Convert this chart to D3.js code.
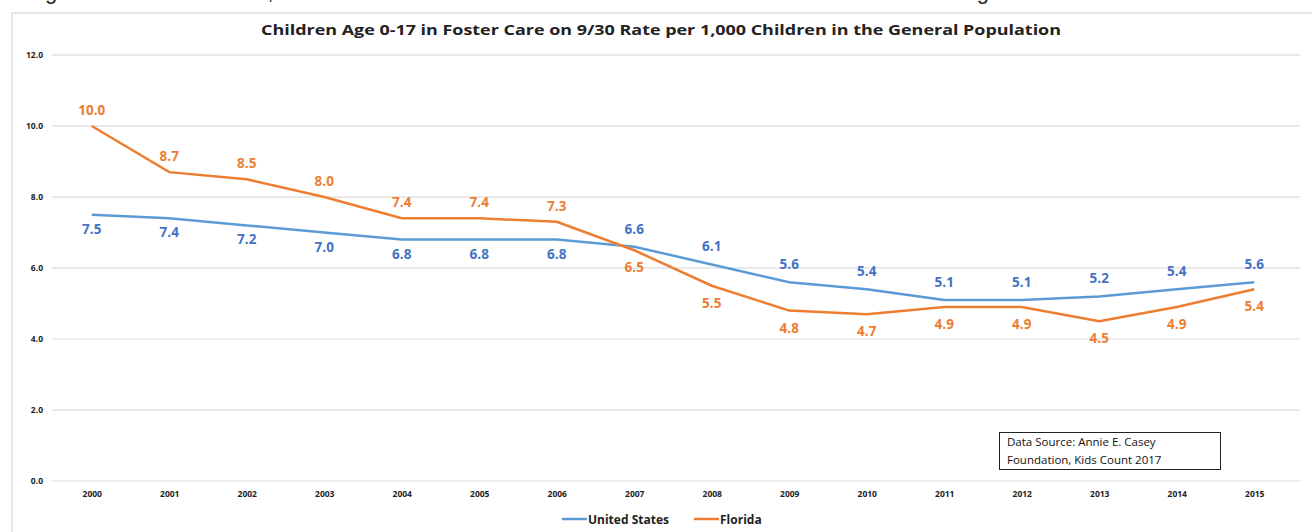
<!DOCTYPE html>
<html>
<head>
<meta charset="utf-8">
<script src="https://cdn.jsdelivr.net/npm/d3@7"></script>
<style>
  body { margin: 0; background: #fff; }
  svg { display: block; font-family: "Open Sans", "Noto Sans", sans-serif; }
</style>
</head>
<body>
<svg id="chart" width="1312" height="532"></svg>
<script>
// data
var years = ["2000","2001","2002","2003","2004","2005","2006","2007","2008","2009","2010","2011","2012","2013","2014","2015"];
var usValues = [7.5, 7.4, 7.2, 7.0, 6.8, 6.8, 6.8, 6.6, 6.1, 5.6, 5.4, 5.1, 5.1, 5.2, 5.4, 5.6];
var flValues = [10.0, 8.7, 8.5, 8.0, 7.4, 7.4, 7.3, 6.5, 5.5, 4.8, 4.7, 4.9, 4.9, 4.5, 4.9, 5.4];
var yTicks = [0, 2, 4, 6, 8, 10, 12];

var usLine = "#5B9BD5", usText = "#4472C4";
var flColor = "#ED7D31";

var svg = d3.select("#chart");

// text line from the page above the chart, cut off by the top edge like in the screenshot
svg.append("text")
    .attr("x", -4).attr("y", -1)
    .attr("font-size", 22)
    .attr("fill", "#222")
    .attr("font-family", "Liberation Sans, sans-serif")
    .text("the age. From 2000 to 2015, Florida decreased its rate of children in care to below the national average");

// chart frame (only left and top edges visible)
svg.append("line").attr("x1", 12).attr("x2", 1312).attr("y1", 13).attr("y2", 13)
    .attr("stroke", "#d0d0d0");
svg.append("line").attr("x1", 12).attr("x2", 12).attr("y1", 13).attr("y2", 532)
    .attr("stroke", "#d0d0d0");

svg.append("text")
    .attr("x", 661).attr("y", 35)
    .attr("text-anchor", "middle")
    .attr("font-size", 15)
    .attr("font-weight", "bold")
    .attr("fill", "#222")
    .attr("textLength", 800)
    .attr("lengthAdjust", "spacingAndGlyphs")
    .text("Children Age 0-17 in Foster Care on 9/30 Rate per 1,000 Children in the General Population");

var x = d3.scalePoint().domain(years).range([53, 1293]).padding(0.5);
var y = d3.scaleLinear().domain([0, 12]).range([481, 55]);

// gridlines
svg.append("g").selectAll("line")
    .data(yTicks)
    .enter().append("line")
    .attr("x1", 52).attr("x2", 1300)
    .attr("y1", d => y(d)).attr("y2", d => y(d))
    .attr("stroke", d => (d === 0 || d === 4) ? "#ececec" : "#d4d4d4")
    .attr("stroke-width", d => (d === 0 || d === 4) ? 2 : 1);

// y axis labels
var yAxis = svg.append("g")
    .attr("transform", "translate(43,0)")
    .call(d3.axisLeft(y).tickValues(yTicks).tickFormat(d3.format(".1f")).tickSize(0).tickPadding(0));
yAxis.select(".domain").remove();
yAxis.selectAll("text")
    .attr("font-size", 8.5).attr("font-weight", "bold").attr("fill", "#222")
    .attr("font-family", "Open Sans, sans-serif");

// x axis labels
var xAxis = svg.append("g")
    .attr("transform", "translate(0,491)")
    .call(d3.axisBottom(x).tickSize(0).tickPadding(0));
xAxis.select(".domain").remove();
xAxis.selectAll("text")
    .attr("font-size", 8.5).attr("font-weight", "bold").attr("fill", "#222")
    .attr("font-family", "Open Sans, sans-serif");

var line = d3.line()
    .x((d, i) => x(years[i]))
    .y(d => y(d));

svg.append("path").datum(usValues)
    .attr("d", line).attr("fill", "none")
    .attr("stroke", usLine).attr("stroke-width", 2.5);
svg.append("path").datum(flValues)
    .attr("d", line).attr("fill", "none")
    .attr("stroke", flColor).attr("stroke-width", 2.5);

// data labels: before 2007 US below, Florida above; from 2007 swapped
svg.append("g").selectAll("text")
    .data(usValues)
    .enter().append("text")
    .attr("x", (d, i) => x(years[i]))
    .attr("y", (d, i) => i < 7 ? y(d) + 19 : y(d) - 13)
    .attr("text-anchor", "middle")
    .attr("font-size", 13.5).attr("font-weight", "bold")
    .attr("fill", usText)
    .text(d => d3.format(".1f")(d));

svg.append("g").selectAll("text")
    .data(flValues)
    .enter().append("text")
    .attr("x", (d, i) => x(years[i]))
    .attr("y", (d, i) => i < 7 ? y(d) - 11 : y(d) + 22)
    .attr("text-anchor", "middle")
    .attr("font-size", 13.5).attr("font-weight", "bold")
    .attr("fill", flColor)
    .text(d => d3.format(".1f")(d));

// source box
svg.append("rect")
    .attr("x", 999.5).attr("y", 432.5).attr("width", 221).attr("height", 37)
    .attr("fill", "#fff").attr("stroke", "#222").attr("stroke-width", 1);
svg.append("text").attr("x", 1007).attr("y", 446)
    .attr("font-size", 11.5).attr("fill", "#111")
    .text("Data Source: Annie E. Casey");
svg.append("text").attr("x", 1007).attr("y", 464)
    .attr("font-size", 11.5).attr("fill", "#111")
    .text("Foundation, Kids Count 2017");

// legend
var legendItems = [
    { name: "United States", color: usLine, x: 562 },
    { name: "Florida", color: flColor, x: 694 }
];
var legend = svg.selectAll(".legend")
    .data(legendItems)
    .enter().append("g")
    .attr("class", "legend")
    .attr("transform", d => `translate(${d.x}, 519)`);
legend.append("line")
    .attr("x1", 0).attr("x2", 25).attr("y1", 0).attr("y2", 0)
    .attr("stroke", d => d.color).attr("stroke-width", 2.5);
legend.append("text")
    .attr("x", 26).attr("y", 4.5)
    .attr("font-size", 12).attr("font-weight", "bold").attr("fill", "#222")
    .text(d => d.name);
</script>
</body>
</html>
